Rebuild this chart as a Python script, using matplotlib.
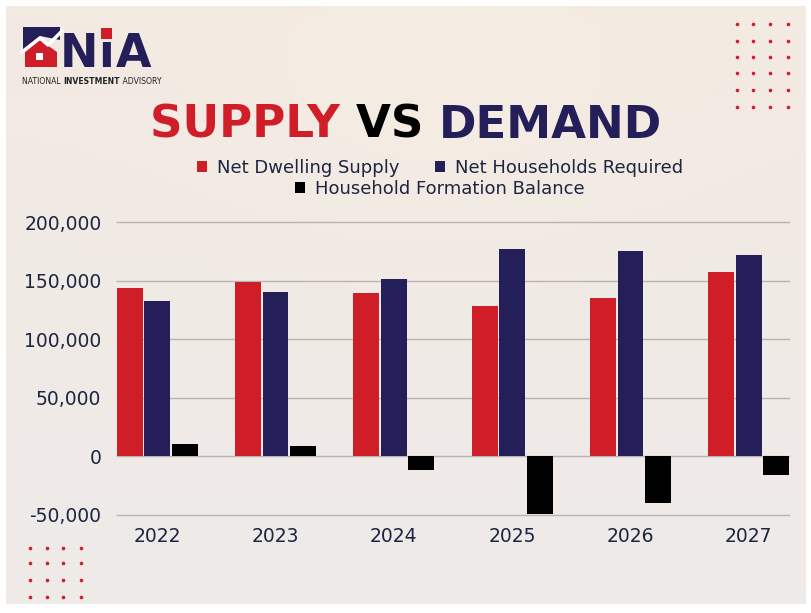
import numpy as np
import matplotlib
matplotlib.use("Agg")
import matplotlib.pyplot as plt
from matplotlib.patches import Polygon, Rectangle
from matplotlib.ticker import FuncFormatter

plt.rcParams['font.family'] = ['DejaVu Sans']

# data
years = ['2022', '2023', '2024', '2025', '2026', '2027']
dwelling_supply = [144000, 149000, 139000, 128000, 135000, 157000]
households_required = [133000, 140000, 151000, 177000, 175000, 172000]
formation_balance = [11000, 9000, -12000, -49000, -40000, -16000]

RED = '#d01e28'
NAVY = '#251f59'
INK = '#1c2541'
W, H = 812, 613


def fx(x):
    return x / W


def fy(y):
    return 1 - y / H


fig = plt.figure(figsize=(W / 100, H / 100), dpi=100, facecolor='white')

# soft photo-like background
bg = fig.add_axes([fx(6), fy(604), fx(800), 598 / H], zorder=-10)
gy, gx = np.mgrid[0:1:120j, 0:1:160j]
top = np.array([243, 234, 226]) / 255
bot = np.array([238, 235, 233]) / 255
img = top[None, None, :] * (1 - gy[..., None]) + bot[None, None, :] * gy[..., None]
glow = np.exp(-((gx - 0.55) ** 2 / 0.08 + (gy - 0.15) ** 2 / 0.05))[..., None]
img = img * (1 - 0.35 * glow) + np.array([250, 240, 226]) / 255 * 0.35 * glow
bg.imshow(img, aspect='auto', extent=[0, 1, 0, 1])
bg.axis('off')

# chart
ax = fig.add_axes([fx(116.7), fy(515), (789.3 - 116.7) / W, (515 - 222) / H])
ax.patch.set_alpha(0)
x = np.arange(len(years))
step, bw = 0.2325, 0.219
ax.bar(x - step, dwelling_supply, bw, color=RED, label='Net Dwelling Supply', zorder=3)
ax.bar(x, households_required, bw, color=NAVY, label='Net Households Required', zorder=3)
ax.bar(x + step, formation_balance, bw, color='black', label='Household Formation Balance', zorder=3)

ax.set_xlim(-step - bw / 2, len(years) - 1 + step + bw / 2)
ax.set_ylim(-50000, 200000)
ax.set_yticks(np.arange(-50000, 200001, 50000))
ax.yaxis.set_major_formatter(FuncFormatter(lambda v, p: f'{int(v):,}'))
ax.set_xticks(x)
ax.set_xticklabels(years)
ax.grid(axis='y', color='#b9b4b0', linewidth=1, zorder=0)
for gl in ax.get_ygridlines():
    gl.set_clip_on(False)
for s in ax.spines.values():
    s.set_visible(False)
ax.tick_params(length=0, labelsize=13.5, labelcolor=INK)
ax.tick_params(axis='y', pad=11)
ax.tick_params(axis='x', pad=9)

# legends
h, l = ax.get_legend_handles_labels()
leg1 = fig.legend(h[:2], l[:2], ncol=2, loc='center', bbox_to_anchor=(fx(440), fy(168)),
                  frameon=False, fontsize=13, handlelength=0.55, handleheight=0.55,
                  handletextpad=0.55, columnspacing=2.0, labelcolor=INK)
leg2 = fig.legend(h[2:], l[2:], loc='center', bbox_to_anchor=(fx(440), fy(189)),
                  frameon=False, fontsize=13, handlelength=0.55, handleheight=0.55,
                  handletextpad=0.55, labelcolor=INK)

# title in three colours
parts = [('SUPPLY ', RED), ('VS ', 'black'), ('DEMAND', NAVY)]
texts = [fig.text(0, fy(137.5), s, color=c, fontsize=32.5, fontweight='heavy', va='baseline')
         for s, c in parts]
fig.canvas.draw()
r = fig.canvas.get_renderer()
widths = [t.get_window_extent(r).width for t in texts]
x0 = 406 - sum(widths) / 2
for t, w in zip(texts, widths):
    t.set_x(fx(x0))
    x0 += w

# logo
fig.patches.append(Polygon([[fx(23), fy(27)], [fx(60), fy(27)], [fx(60), fy(40)], [fx(40), fy(36)],
                            [fx(23), fy(50)]], closed=True, transform=fig.transFigure,
                           facecolor=NAVY, edgecolor='none'))
fig.patches.append(Polygon([[fx(25), fy(67)], [fx(25), fy(52)], [fx(40), fy(40)], [fx(57), fy(52)],
                            [fx(57), fy(67)]], closed=True, transform=fig.transFigure,
                           facecolor=RED, edgecolor='none'))
fig.patches.append(Rectangle((fx(36), fy(60)), 7 / W, 7 / H, transform=fig.transFigure,
                             facecolor='white', edgecolor='none'))
fig.lines.append(plt.Line2D([fx(22), fx(40), fx(48), fx(62)], [fy(52), fy(38), fy(45), fy(31)],
                            transform=fig.transFigure, color='white', linewidth=2.5))
fig.text(fx(60), fy(67), 'N', color=NAVY, fontsize=33, fontweight='heavy', va='baseline')
fig.text(fx(98), fy(67), '\u0131', color=NAVY, fontsize=33, fontweight='heavy', va='baseline')
fig.patches.append(Rectangle((fx(101), fy(39)), 11 / W, 11 / H, transform=fig.transFigure,
                             facecolor=RED, edgecolor='none'))
fig.text(fx(116), fy(67), 'A', color=NAVY, fontsize=33, fontweight='heavy', va='baseline')
t1 = fig.text(fx(22), fy(84), 'NATIONAL ', color='#222222', fontsize=5.6, va='baseline')
t2 = fig.text(0, 0, 'INVESTMENT', color='#222222', fontsize=5.6, fontweight='bold', va='baseline')
t3 = fig.text(0, 0, ' ADVISORY', color='#222222', fontsize=5.6, va='baseline')
fig.canvas.draw()
xp = 22 + t1.get_window_extent(r).width
t2.set_position((fx(xp), fy(84)))
xp += t2.get_window_extent(r).width
t3.set_position((fx(xp), fy(84)))

# decorative dot grids
dots_x = [fx(v) for v in (736.7, 753.3, 770.3, 787.7)]
for yy in (24.3, 41, 57, 73, 90, 107):
    fig.lines.append(plt.Line2D(dots_x, [fy(yy)] * 4, transform=fig.transFigure, linestyle='none',
                                marker='o', markersize=2.6, color=RED, markeredgewidth=0))
dots_x = [fx(v) for v in (30, 46.7, 63.3, 80.7)]
for yy in (547.7, 563, 579.7, 597):
    fig.lines.append(plt.Line2D(dots_x, [fy(yy)] * 4, transform=fig.transFigure, linestyle='none',
                                marker='o', markersize=2.6, color=RED, markeredgewidth=0))

fig.savefig('out.png', dpi=100, facecolor='white')
